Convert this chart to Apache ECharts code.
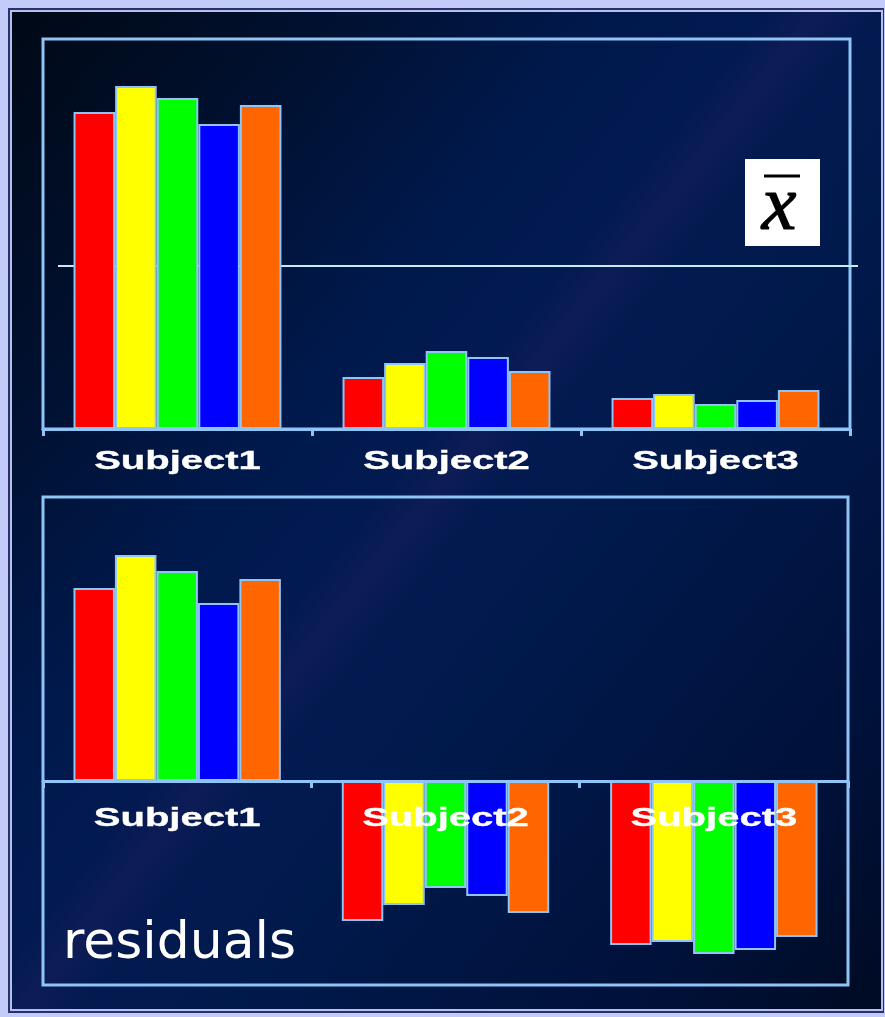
<!DOCTYPE html>
<html>
<head>
<meta charset="utf-8">
<script src="https://cdn.jsdelivr.net/npm/echarts@6/dist/echarts.min.js"></script>
<style>
  html, body { margin: 0; padding: 0; background: #c3cbf9; }
  #chart { width: 885px; height: 1017px; }
</style>
</head>
<body>
<div id="chart"></div>
<script>
// categories and conditions
const categories = ['Subject1', 'Subject2', 'Subject3'];
const conditionColors = ['#ff0000', '#ffff00', '#00ff00', '#0000ff', '#ff6600'];

// raw scores per condition (one value per subject)
const rawRed    = [317, 52, 31];
const rawYellow = [343, 66, 35];
const rawGreen  = [331, 78, 25];
const rawBlue   = [305, 72, 29];
const rawOrange = [324, 58, 39];
const grandMean = 163;

// residuals per condition
const resRed    = [193, -140, -164];
const resYellow = [226, -124, -161];
const resGreen  = [210, -107, -173];
const resBlue   = [178, -115, -169];
const resOrange = [202, -132, -156];

const rawSets = [rawRed, rawYellow, rawGreen, rawBlue, rawOrange];
const resSets = [resRed, resYellow, resGreen, resBlue, resOrange];

const frameColor = '#8ec4f6';

const chart = echarts.init(document.getElementById('chart'));

function barSeries(sets, axisIdx) {
    return sets.map((vals, i) => ({
        type: 'bar',
        xAxisIndex: axisIdx,
        yAxisIndex: axisIdx,
        data: vals,
        barGap: '0%',
        barCategoryGap: '22.7%',
        itemStyle: { color: conditionColors[i], borderColor: frameColor, borderWidth: 2 },
        z: 2
    }));
}

function xAxisFor(idx) {
    return {
        type: 'category',
        gridIndex: idx,
        data: categories,
        axisLine: { onZero: true, lineStyle: { color: frameColor, width: 3 } },
        axisTick: { show: true, length: 7, interval: 0, lineStyle: { color: frameColor, width: 3 } },
        axisLabel: { show: false },
        splitLine: { show: false }
    };
}

const option = {
    animation: false,
    backgroundColor: 'transparent',
    grid: [
        { left: 43, top: 39, width: 807, height: 390, show: true, borderColor: frameColor, borderWidth: 3, backgroundColor: 'transparent' },
        { left: 43, top: 497, width: 805, height: 488, show: true, borderColor: frameColor, borderWidth: 3, backgroundColor: 'transparent' }
    ],
    xAxis: [xAxisFor(0), xAxisFor(1)],
    yAxis: [
        { type: 'value', gridIndex: 0, min: 0, max: 390, show: false },
        { type: 'value', gridIndex: 1, min: -204, max: 284, show: false }
    ],
    series: barSeries(rawSets, 0).concat(barSeries(resSets, 1))
};

chart.setOption(option);

// decorations and labels, placed through the axes
const bgGradient = new echarts.graphic.LinearGradient(0, 0, 1100, 880, [
    { offset: 0, color: '#000814' },
    { offset: 0.18, color: '#00102e' },
    { offset: 0.34, color: '#00194c' },
    { offset: 0.43, color: '#021a50' },
    { offset: 0.46, color: '#0e1c56' },
    { offset: 0.49, color: '#031a50' },
    { offset: 0.60, color: '#00194a' },
    { offset: 0.80, color: '#00113a' },
    { offset: 1, color: '#000818' }
], true);

const graphics = [
    { type: 'rect', z: -10, shape: { x: 0, y: 0, width: 885, height: 1017 }, style: { fill: '#c3cbf9' } },
    { type: 'rect', z: -10, shape: { x: 8, y: 8, width: 876, height: 1005 }, style: { fill: '#2a3264' } },
    { type: 'rect', z: -10, shape: { x: 10, y: 10, width: 873, height: 1001 }, style: { fill: '#b4c0f2' } },
    { type: 'rect', z: -10, shape: { x: 12, y: 12, width: 869, height: 997 }, style: { fill: bgGradient } }
];

const meanY = chart.convertToPixel({ yAxisIndex: 0 }, grandMean);
graphics.push({ type: 'line', z: 1, shape: { x1: 58, y1: meanY, x2: 858, y2: meanY }, style: { stroke: '#c4ecf2', lineWidth: 2 } });

const labelOffsets = [33, 38];
[0, 1].forEach(g => {
    const zeroY = chart.convertToPixel({ yAxisIndex: g }, 0);
    categories.forEach(cat => {
        const cx = chart.convertToPixel({ xAxisIndex: g }, cat);
        graphics.push({
            type: 'text', z: 50, x: cx, y: zeroY + labelOffsets[g], scaleX: 1.6,
            style: {
                text: cat, fill: '#ffffff', stroke: '#ffffff', lineWidth: 0.35,
                font: 'bold 25px "Liberation Sans", Arial, sans-serif', textAlign: 'center', textVerticalAlign: 'middle'
            }
        });
    });
});

// x-bar box
graphics.push({ type: 'rect', z: 20, shape: { x: 745, y: 159, width: 75, height: 87 }, style: { fill: '#ffffff' } });
graphics.push({ type: 'line', z: 21, shape: { x1: 764, y1: 176, x2: 800, y2: 176 }, style: { stroke: '#000000', lineWidth: 3 } });
graphics.push({
    type: 'text', z: 21, x: 779, y: 208,
    style: {
        text: 'x', fill: '#000000', stroke: '#000000', lineWidth: 1.2,
        font: 'italic 78px "Liberation Serif", "Times New Roman", serif', textAlign: 'center', textVerticalAlign: 'middle'
    }
});

graphics.push({
    type: 'text', z: 50, x: 63, y: 944,
    style: { text: 'residuals', fill: '#ffffff', font: '52px "DejaVu Sans", Verdana, sans-serif', textAlign: 'left', textVerticalAlign: 'middle' }
});

chart.setOption({ graphic: graphics });
</script>
</body>
</html>
